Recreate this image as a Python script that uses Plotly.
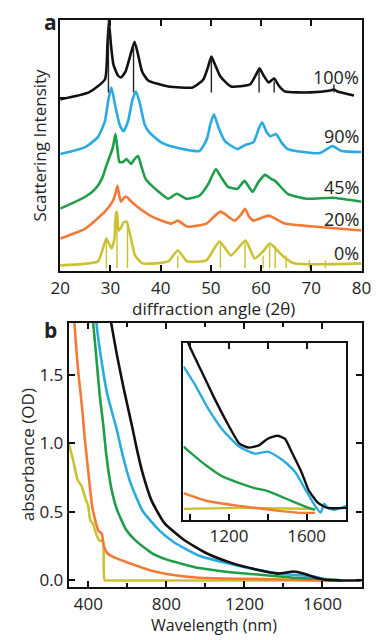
import plotly.graph_objects as go

W, H = 381, 640
FONT = "Open Sans"

# ---------------- Panel a: XRD (2theta, stacked intensity, arb. units) ----------------
tt_100 = [20, 25.7, 28.9, 29.4, 29.7, 30.1, 30.6, 31.5, 32.1, 33.0, 34.0, 34.8, 35.5, 36.3, 37.5, 41.5, 46.4,
          48.5, 49.4, 50.1, 50.9, 51.9, 54, 57.8, 58.9, 59.7, 60.5, 61.5, 62.6, 63.5, 64.7, 69.8, 73.8, 74.5, 75.2, 78.5]
I_100 = [173, 180, 193, 228, 251, 228, 208, 197, 195, 201, 218, 231, 218, 201, 192, 186, 185,
         193, 205, 216, 207, 196, 186, 188, 197, 204, 197, 190, 194, 187, 181, 180, 182, 183, 181, 177]

tt_90 = [20, 25, 27.5, 28.9, 29.6, 30.2, 30.9, 31.8, 32.6, 33.5, 34.4, 35.1, 35.9, 36.8, 37.7, 40, 42.7, 47.7,
         49.2, 49.9, 50.6, 51.5, 52.8, 55.3, 56.8, 58.5, 59.5, 60.2, 61.0, 61.9, 63.0, 64.0, 65.3, 71.7, 74.2, 76, 80]
I_90 = [118, 125, 135, 151, 173, 185, 168, 148, 141, 151, 173, 181, 168, 148, 140, 130, 125, 121,
        133, 148, 158, 145, 131, 123, 127, 130, 143, 150, 141, 136, 138, 130, 123, 119, 126, 121, 120]

tt_45 = [20, 25, 27.0, 28.3, 29.3, 29.9, 30.5, 31.0, 31.4, 31.8, 32.5, 33.2, 34.1, 34.8, 35.5, 36.2, 37.0, 39.6,
         41.5, 43.2, 45.2, 47.7, 49.5, 51.0, 52.0, 53.4, 55.3, 56.7, 58.3, 59.5, 60.8, 62.0, 62.8, 65.3, 69.1, 74.2, 80]
I_45 = [63, 75, 83, 93, 108, 116, 125, 138, 123, 110, 110, 113, 108, 113, 116, 105, 93, 80,
        73, 78, 73, 76, 88, 103, 95, 85, 83, 91, 80, 90, 97, 93, 91, 78, 73, 74, 70]

tt_20 = [20, 25, 28.9, 30.4, 31.0, 31.4, 31.8, 32.1, 32.7, 33.2, 34.0, 35.1, 38.3, 42.1, 43.4, 45.3, 49.1, 51.9,
         54.7, 56.0, 56.8, 57.6, 58.5, 61.5, 64.7, 70.4, 80]
I_20 = [33, 43, 60, 70, 78, 86, 75, 70, 74, 75, 71, 66, 55, 48, 51, 45, 48, 60,
        51, 57, 63, 55, 51, 56, 48, 45, 41]

tt_0 = [20, 27.5, 28.5, 29.2, 30.2, 30.8, 31.1, 31.3, 31.6, 32.0, 32.6, 33.2, 34.0, 34.9, 36.4, 41.5, 43.4, 45.3,
        49.1, 51.7, 54, 56.9, 58.7, 60.4, 61.7, 62.5, 64.2, 66.6, 80]
I_0 = [6, 10, 23, 33, 23, 33, 58, 60, 41, 43, 49, 50, 35, 16, 8, 10, 21, 10,
       11, 30, 16, 31, 13, 20, 28, 25, 16, 8, 8]

# reference stick patterns
ref_hi_pos = [29.6, 34.6, 50.1, 59.6, 62.6, 74.5]
ref_hi_top = [253, 226, 215, 205, 191, 188]
ref_hi_base = 180
ref_lo_pos = [29.2, 31.3, 33.4, 43.4, 51.9, 56.8, 60.4, 61.7, 62.8, 65.0, 69.6, 72.8]
ref_lo_top = [33, 60, 50, 16, 28, 30, 16, 26, 25, 16, 11, 11]
ref_lo_base = 3

labels_a = ["100%", "90%", "45%", "20%", "0%"]
label_a_y = [196, 136, 85, 53, 18]

# ---------------- Panel b: absorbance ----------------
wl_0 = [300, 322, 346, 365, 385, 400, 410, 425, 443, 458, 475, 479, 484, 500, 1700]
od_0 = [1.00, 0.88, 0.73, 0.69, 0.60, 0.54, 0.44, 0.41, 0.33, 0.29, 0.29, 0.10, 0.0, 0.0, 0.0]

wl_20 = [320, 329, 337, 350, 361, 371, 381, 395, 410, 420, 432, 443, 453, 462, 470, 476, 482, 497, 530,
         565, 643, 725, 808, 968, 1294, 1615, 1650]
od_20 = [2.0, 1.88, 1.72, 1.50, 1.36, 1.22, 1.05, 0.86, 0.66, 0.54, 0.46, 0.40, 0.36, 0.35, 0.34, 0.28, 0.24, 0.20, 0.17,
         0.15, 0.11, 0.07, 0.045, 0.02, 0.01, 0.0, 0.0]

wl_45 = [420, 425, 443, 458, 478, 492, 517, 546, 594, 643, 725, 808, 968, 1129, 1294, 1454, 1615, 1700]
od_45 = [1.95, 1.88, 1.60, 1.36, 1.12, 0.92, 0.68, 0.52, 0.37, 0.29, 0.20, 0.15, 0.09, 0.06, 0.04, 0.02, 0.01, 0.0]

wl_90 = [440, 444, 468, 497, 546, 575, 614, 677, 760, 837, 968, 1129, 1294, 1406, 1503, 1552, 1615, 1640]
od_90 = [1.95, 1.85, 1.60, 1.36, 1.10, 0.92, 0.72, 0.51, 0.37, 0.28, 0.18, 0.12, 0.07, 0.045, 0.036, 0.03, 0.007, 0.0]

wl_100 = [510, 517, 546, 580, 628, 650, 677, 725, 789, 886, 1003, 1129, 1260, 1372, 1454, 1503, 1568, 1615, 1697, 1800]
od_100 = [1.95, 1.88, 1.65, 1.41, 1.10, 0.95, 0.79, 0.58, 0.42, 0.30, 0.20, 0.13, 0.08, 0.05, 0.065, 0.05, 0.02, 0.005, 0.0, 0.0]

# inset (arb. units, NIR region)
iwl_100 = [966, 990, 1059, 1122, 1185, 1254, 1302, 1351, 1400, 1449, 1488, 1527, 1576, 1610, 1659, 1707, 1805]
iod_100 = [1.12, 1.0, 0.838, 0.693, 0.559, 0.430, 0.408, 0.419, 0.458, 0.475, 0.458, 0.374, 0.263, 0.168, 0.095, 0.067, 0.067]
iwl_90 = [966, 1024, 1088, 1171, 1254, 1332, 1400, 1449, 1498, 1546, 1595, 1644, 1673, 1690, 1707, 1741, 1805]
iod_90 = [0.866, 0.765, 0.637, 0.503, 0.413, 0.374, 0.385, 0.358, 0.318, 0.263, 0.168, 0.078, 0.04, 0.09, 0.07, 0.056, 0.078]
iwl_45 = [966, 1024, 1088, 1156, 1254, 1332, 1400, 1463, 1546, 1610, 1644]
iod_45 = [0.413, 0.358, 0.302, 0.251, 0.207, 0.179, 0.162, 0.134, 0.095, 0.067, 0.056]
iwl_20 = [966, 1088, 1254, 1415, 1576, 1644]
iod_20 = [0.151, 0.106, 0.078, 0.056, 0.039, 0.039]
iwl_0 = [966, 1254, 1644]
iod_0 = [0.061, 0.067, 0.061]

COL = {"100": "#111111", "90": "#29abe2", "45": "#1f9e4a", "20": "#f27a36", "0": "#cbc232"}

fig = go.Figure()

for tt, I, k in [(tt_0, I_0, "0"), (tt_20, I_20, "20"), (tt_45, I_45, "45"), (tt_90, I_90, "90"), (tt_100, I_100, "100")]:
    fig.add_trace(go.Scatter(x=tt, y=I, mode="lines", line=dict(color=COL[k], width=2.6, shape="spline", smoothing=0.5),
                             xaxis="x", yaxis="y", hoverinfo="skip"))

def sticks(pos, top, base):
    xs, ys = [], []
    for p, t in zip(pos, top):
        xs += [p, p, None]
        ys += [base, t, None]
    return xs, ys

sx, sy = sticks(ref_hi_pos, ref_hi_top, ref_hi_base)
fig.add_trace(go.Scatter(x=sx, y=sy, mode="lines", line=dict(color="#222222", width=1.4), xaxis="x", yaxis="y", hoverinfo="skip"))
sx, sy = sticks(ref_lo_pos, ref_lo_top, ref_lo_base)
fig.add_trace(go.Scatter(x=sx, y=sy, mode="lines", line=dict(color=COL["0"], width=1.4), xaxis="x", yaxis="y", hoverinfo="skip"))

for wl, od, k in [(wl_0, od_0, "0"), (wl_20, od_20, "20"), (wl_45, od_45, "45"), (wl_90, od_90, "90"), (wl_100, od_100, "100")]:
    fig.add_trace(go.Scatter(x=wl, y=od, mode="lines", line=dict(color=COL[k], width=2.6, shape="spline", smoothing=0.5),
                             xaxis="x2", yaxis="y2", hoverinfo="skip"))

for wl, od, k in [(iwl_0, iod_0, "0"), (iwl_20, iod_20, "20"), (iwl_45, iod_45, "45"), (iwl_90, iod_90, "90"), (iwl_100, iod_100, "100")]:
    fig.add_trace(go.Scatter(x=wl, y=od, mode="lines", line=dict(color=COL[k], width=2.4, shape="spline", smoothing=0.5),
                             xaxis="x3", yaxis="y3", hoverinfo="skip"))

tickfont = dict(family=FONT, size=17, color="#222222")
frame = dict(showline=True, linecolor="#111111", linewidth=2, showgrid=False, zeroline=False,
             ticks="inside", tickwidth=2, tickcolor="#111111", tickfont=tickfont)

fig.update_layout(
    width=W, height=H, margin=dict(l=0, r=0, t=0, b=0),
    paper_bgcolor="white", plot_bgcolor="white", showlegend=False,
    font=dict(family=FONT, color="#222222"),
    xaxis=dict(frame, domain=[53 / W, 371 / W], range=[20, 80], tickvals=[20, 30, 40, 50, 60, 70, 80],
               ticklen=6, mirror="ticks", anchor="y"),
    yaxis=dict(frame, domain=[1 - 273 / H, 1 - 20 / H], range=[0, 253], tickvals=[174], ticklen=6,
               showticklabels=False, mirror=True, anchor="x"),
    xaxis2=dict(frame, domain=[62 / W, 371 / W], range=[300, 1800], tickvals=[400, 800, 1200, 1600],
                ticklen=6, mirror="ticks", anchor="y2",
                minor=dict(tickvals=[600, 1000, 1400], ticks="inside", ticklen=4, tickwidth=2, tickcolor="#111111")),
    yaxis2=dict(frame, domain=[1 - 591 / H, 1 - 325 / H], range=[-0.05, 1.877], tickvals=[0, 0.5, 1.0, 1.5],
                tickformat=".1f", ticklen=6, mirror="ticks", anchor="x2"),
    xaxis3=dict(frame, domain=[183 / W, 355 / W], range=[965, 1805], tickvals=[1000, 1200, 1400, 1600],
                ticktext=["", "1200", "", "1600"], ticklen=6, mirror="ticks", anchor="y3"),
    yaxis3=dict(frame, domain=[1 - 523 / H, 1 - 345 / H], range=[0, 1.0], showticklabels=False, ticks="",
                mirror=True, anchor="x3"),
)

def lab(x, y, text, size=17, angle=0):
    return dict(x=x / W, y=1 - y / H, xref="paper", yref="paper", text=text, showarrow=False,
                xanchor="center", yanchor="middle", textangle=angle,
                font=dict(family=FONT, size=size, color="#222222"))

ann = []
for t, y in zip(labels_a, label_a_y):
    ann.append(dict(x=79.8, y=y, xref="x", yref="y", text=t, showarrow=False, xanchor="right", yanchor="middle",
                    font=dict(family=FONT, size=18, color="#222222")))
ann += [
    lab(43, 22, "<b>a</b>", 21),
    lab(43, 332, "<b>b</b>", 21),
    lab(215, 310, "diffraction angle (2θ)", 17),
    lab(31, 146, "Scattering Intensity", 17, -90),
    lab(215, 629, "Wavelength (nm)", 16),
    lab(18, 458, "absorbance (OD)", 17, -90),
]
fig.update_layout(annotations=ann)

fig.write_html("out.html")
